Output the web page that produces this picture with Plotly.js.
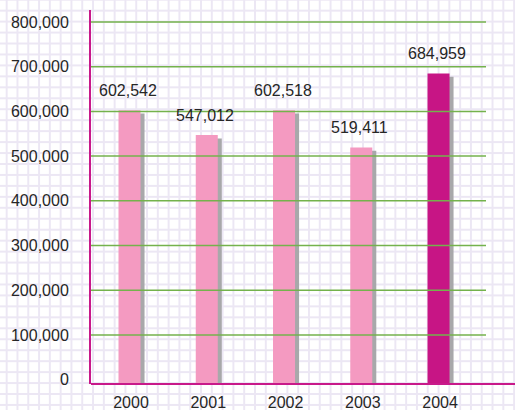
<!DOCTYPE html>
<html>
<head>
<meta charset="utf-8">
<script src="https://cdn.plot.ly/plotly-3.0.1.min.js"></script>
<style>
html, body { margin: 0; padding: 0; background: #ffffff; }
#chart {
  width: 515px; height: 410px;
  background-color: #ffffff;
  background-image:
    linear-gradient(90deg, #ece7f4 0, #ece7f4 2px, rgba(255,255,255,0) 2px),
    linear-gradient(180deg, #ece7f4 0, #ece7f4 2px, rgba(255,255,255,0) 2px);
  background-size: 10.8px 10.96px;
  background-position: 5.7px -1.3px;
}
</style>
</head>
<body>
<div id="chart"></div>
<script>
const years = ['2000', '2001', '2002', '2003', '2004'];
const visitors = [602542, 547012, 602518, 519411, 684959];
const barColors = ['#f49ac1', '#f49ac1', '#f49ac1', '#f49ac1', '#c71585'];
const valueLabels = ['602,542', '547,012', '602,518', '519,411', '684,959'];
const yTickVals = [0, 100000, 200000, 300000, 400000, 500000, 600000, 700000, 800000];
const yTickText = ['0', '100,000', '200,000', '300,000', '400,000', '500,000', '600,000', '700,000', '800,000'];

const mainRange = [-9800, 826800];
const shadowShift = 7380;
const shadowRange = [mainRange[0] + shadowShift, mainRange[1] + shadowShift];

const shadow = {
  type: 'bar', x: years, y: visitors.map(v => v - shadowRange[0]), yaxis: 'y',
  base: shadowRange[0],
  width: 0.285, offset: -0.110,
  marker: { color: '#a8a8aa' },
  hoverinfo: 'skip', showlegend: false
};
const bars = {
  type: 'bar', x: years, y: visitors.map(v => v - mainRange[0]), yaxis: 'y2',
  base: mainRange[0],
  width: 0.285, offset: -0.162,
  marker: { color: barColors },
  showlegend: false
};

const gridShapes = yTickVals.filter(v => v > 0).map(v => ({
  type: 'line', xref: 'paper', x0: 0, x1: 1, yref: 'y2', y0: v, y1: v,
  line: { color: '#74b24c', width: 1.5 }, layer: 'above'
}));
gridShapes.push({
  type: 'line', xref: 'paper', x0: 0, x1: 424 / 395, yref: 'paper', y0: 0, y1: 0,
  line: { color: '#c8198a', width: 2 }, layer: 'above'
});

const font = { family: 'Liberation Sans, Arial, sans-serif', size: 16, color: '#262626' };

const labels = years.map((yr, i) => ({
  x: i, y: visitors[i], xref: 'x', yref: 'y2',
  text: valueLabels[i], showarrow: false,
  xanchor: 'center', yanchor: 'middle', yshift: 20, xshift: -3,
  font: font
}));

const layout = {
  width: 515, height: 410,
  margin: { l: 91, r: 29, t: 10, b: 26, pad: 0 },
  paper_bgcolor: 'rgba(0,0,0,0)',
  plot_bgcolor: 'rgba(0,0,0,0)',
  barmode: 'overlay',
  font: font,
  xaxis: {
    type: 'category', range: [-0.518, 4.595],
    showgrid: false, zeroline: false, showline: false,
    ticks: '', ticklabelstandoff: 7, tickfont: font
  },
  yaxis: {
    range: shadowRange, visible: false, showgrid: false, zeroline: false
  },
  yaxis2: {
    overlaying: 'y', side: 'left', range: mainRange,
    tickvals: yTickVals, ticktext: yTickText,
    showgrid: false, zeroline: false,
    showline: true, linecolor: '#c8198a', linewidth: 2,
    ticks: '', ticklabelstandoff: 17, tickfont: font
  },
  shapes: gridShapes,
  annotations: labels
};

Plotly.newPlot('chart', [shadow, bars], layout, { displayModeBar: false, staticPlot: true });
</script>
</body>
</html>
